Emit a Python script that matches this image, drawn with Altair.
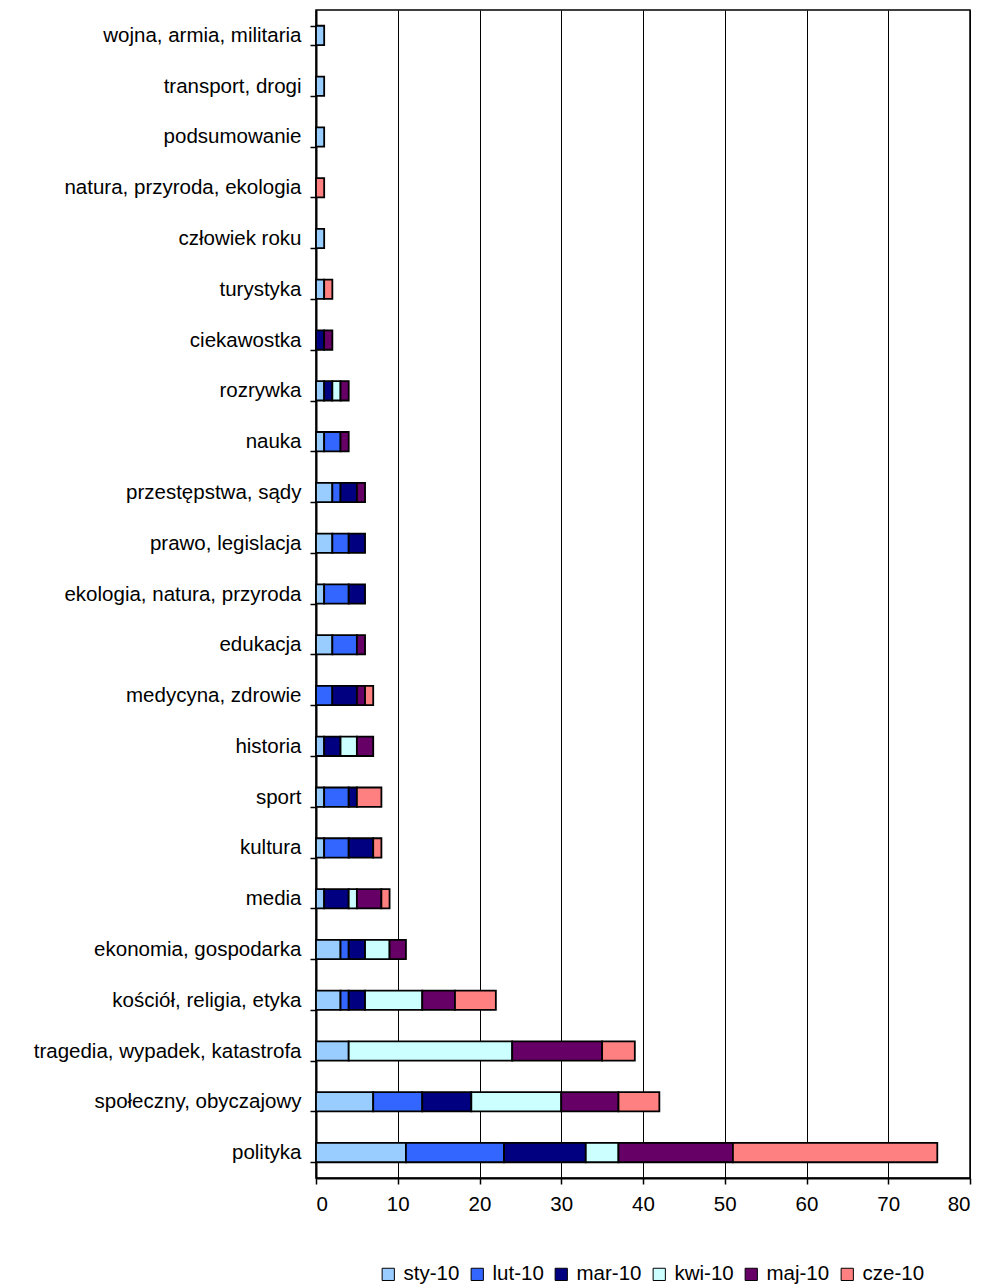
import altair as alt
import pandas as pd

# Topics, listed top to bottom
categories = [
    "wojna, armia, militaria",
    "transport, drogi",
    "podsumowanie",
    "natura, przyroda, ekologia",
    "człowiek roku",
    "turystyka",
    "ciekawostka",
    "rozrywka",
    "nauka",
    "przestępstwa, sądy",
    "prawo, legislacja",
    "ekologia, natura, przyroda",
    "edukacja",
    "medycyna, zdrowie",
    "historia",
    "sport",
    "kultura",
    "media",
    "ekonomia, gospodarka",
    "kościół, religia, etyka",
    "tragedia, wypadek, katastrofa",
    "społeczny, obyczajowy",
    "polityka",
]

months = ["sty-10", "lut-10", "mar-10", "kwi-10", "maj-10", "cze-10"]
colors = ["#99CCFF", "#3366FF", "#000080", "#CCFFFF", "#660066", "#FF8080"]

# Counts per month, one value per topic (same order as categories)
sty = [1, 1, 1, 0, 1, 1, 0, 1, 1, 2, 2, 1, 2, 0, 1, 1, 1, 1, 3, 3, 4, 7, 11]
lut = [0, 0, 0, 0, 0, 0, 0, 0, 2, 1, 2, 3, 3, 2, 0, 3, 3, 0, 1, 1, 0, 6, 12]
mar = [0, 0, 0, 0, 0, 0, 1, 1, 0, 2, 2, 2, 0, 3, 2, 1, 3, 3, 2, 2, 0, 6, 10]
kwi = [0, 0, 0, 0, 0, 0, 0, 1, 0, 0, 0, 0, 0, 0, 2, 0, 0, 1, 3, 7, 20, 11, 4]
maj = [0, 0, 0, 0, 0, 0, 1, 1, 1, 1, 0, 0, 1, 1, 2, 0, 0, 3, 2, 4, 11, 7, 14]
cze = [0, 0, 0, 1, 0, 1, 0, 0, 0, 0, 0, 0, 0, 1, 0, 3, 1, 1, 0, 5, 4, 5, 25]

series = [sty, lut, mar, kwi, maj, cze]

rows = []
for mi, (m, vals) in enumerate(zip(months, series)):
    for c, v in zip(categories, vals):
        if v > 0:
            rows.append({"temat": c, "miesiac": m, "idx": mi, "liczba": v})
df = pd.DataFrame(rows)

FONT = "Liberation Sans"
FS = 20.5

bars = alt.Chart(df).mark_bar(stroke="black", strokeWidth=1.8).encode(
    y=alt.Y(
        "temat:N",
        sort=categories,
        title=None,
        scale=alt.Scale(paddingInner=0.62, paddingOuter=0.31),
        axis=alt.Axis(
            tickBand="extent",
            tickSize=6,
            tickColor="black",
            tickWidth=1.5,
            domainColor="black",
            domainWidth=2,
            labelFont=FONT,
            labelFontSize=FS,
            labelColor="black",
            labelPadding=9,
            labelLimit=400,
            grid=False,
        ),
    ),
    x=alt.X(
        "liczba:Q",
        stack="zero",
        title=None,
        scale=alt.Scale(domain=[0, 80], nice=False),
        axis=alt.Axis(
            values=[0, 10, 20, 30, 40, 50, 60, 70, 80],
            tickSize=6,
            tickColor="black",
            tickWidth=1.5,
            domainColor="black",
            domainWidth=2,
            grid=True,
            gridColor="black",
            gridWidth=1,
            labelFont=FONT,
            labelFontSize=FS,
            labelColor="black",
            labelPadding=10,
        ),
    ),
    color=alt.Color(
        "miesiac:N",
        sort=months,
        scale=alt.Scale(domain=months, range=colors),
        legend=alt.Legend(
            title=None,
            orient="none",
            legendX=62,
            legendY=1254,
            direction="horizontal",
            columns=6,
            symbolType="square",
            symbolSize=150,
            symbolStrokeColor="black",
            symbolStrokeWidth=1,
            labelFont=FONT,
            labelFontSize=FS,
            labelColor="black",
            labelOffset=5,
            columnPadding=7,
        ),
    ),
    order=alt.Order("idx:Q", sort="ascending"),
)

chart = bars.properties(
    width=654,
    height=1168,
    autosize=alt.AutoSizeParams(type="none"),
    padding={"left": 316, "top": 10, "right": 16, "bottom": 108},
    background="white",
).configure_view(stroke="black", strokeWidth=1.5)

chart.save("out.html", embed_options={"renderer": "svg", "actions": False})
